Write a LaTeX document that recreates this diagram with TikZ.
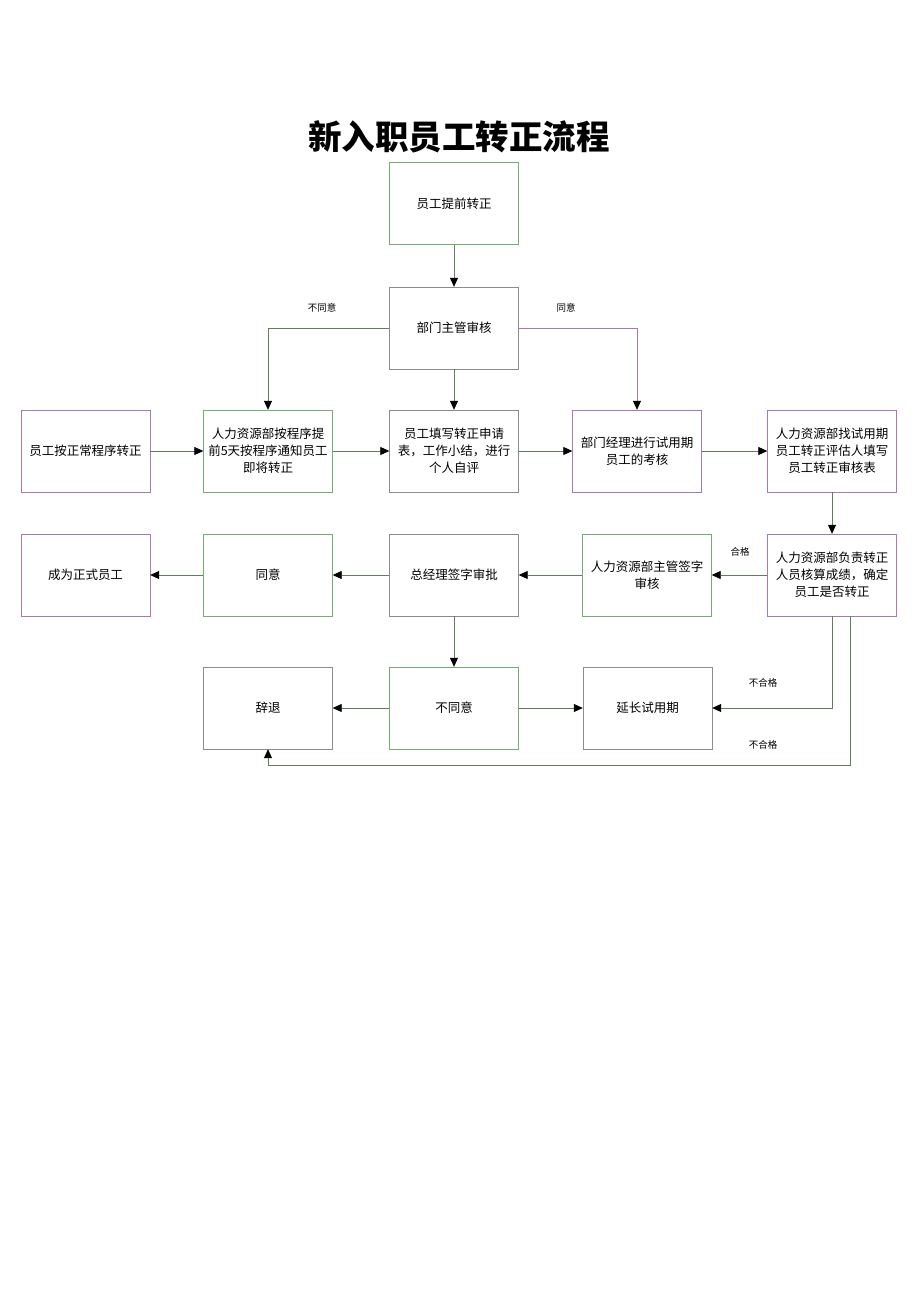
\documentclass[tikz,border=0pt]{standalone}
\usepackage{fontspec}
\newfontfamily\cjk{Noto Sans CJK SC}
\usepackage{xcolor}
\usetikzlibrary{arrows.meta}

\definecolor{boxgreen}{RGB}{120,170,120}
\definecolor{boxpurple}{RGB}{170,120,170}
\definecolor{boxgray}{RGB}{140,140,140}
\definecolor{linecol}{RGB}{95,125,95}

\tikzset{
  box/.style={draw, minimum width=129pt, minimum height=82pt, inner sep=2pt,
    align=center, font=\cjk\fontsize{12.5}{17}\selectfont},
  flow/.style={draw=linecol, line width=0.8pt, -{Triangle[length=9pt,width=8pt,color=black]}},
  lbl/.style={font=\cjk\fontsize{9.5}{11}\selectfont}
}

\begin{document}
\begin{tikzpicture}[x=1pt, y=-1pt]
            \useasboundingbox[fill=white] (0, 0) rectangle (920, 1302);
            \node[font=\cjk\bfseries\fontsize{33.5}{38}\selectfont] (title) at (459, 137) {新入职员工转正流程};

            % top of the flow
            \node[box, draw=boxgreen] (tiqian) at (454, 203.5) {员工提前转正};
            \node[box, draw=boxgray] (zhuguan) at (454, 328) {部门主管审核};

            % row 3
            \node[box, draw=boxpurple] (zhengchang) at (85.5, 451) {员工按正常程序转正};
            \node[box, draw=boxgreen] (tongzhi) at (268, 451) {人力资源部按程序提\\前5天按程序通知员工\\即将转正};
            \node[box, draw=boxgray] (tianxie) at (454, 451) {员工填写转正申请\\表，工作小结，进行\\个人自评};
            \node[box, draw=boxpurple] (kaohe) at (637, 451) {部门经理进行试用期\\员工的考核};
            \node[box, draw=boxpurple] (pinggu) at (832, 451) {人力资源部找试用期\\员工转正评估人填写\\员工转正审核表};

            % row 4
            \node[box, draw=boxpurple] (hesuan) at (832, 575) {人力资源部负责转正\\人员核算成绩，确定\\员工是否转正};
            \node[box, draw=boxgreen] (hrqianzi) at (647, 575) {人力资源部主管签字\\审核};
            \node[box, draw=boxgray] (zongjingli) at (454, 575) {总经理签字审批};
            \node[box, draw=boxgreen] (tongyi) at (268, 575) {同意};
            \node[box, draw=boxpurple] (zhengshi) at (85.5, 575) {成为正式员工};

            % row 5
            \node[box, draw=boxgray] (citui) at (268, 708) {辞退};
            \node[box, draw=boxgreen] (butongyi) at (454, 708) {不同意};
            \node[box, draw=boxgray] (yanchang) at (647.5, 708) {延长试用期};

            \coordinate (rao) at (850, 765);

            % connectors
            \draw[flow] (tiqian) -- (zhuguan);
            \draw[flow] (zhuguan.west) -| (tongzhi.north);
            \draw[flow, draw=boxpurple] (zhuguan.east) -| (kaohe.north);
            \draw[flow] (zhuguan) -- (tianxie);
            \draw[flow] (zhengchang) -- (tongzhi);
            \draw[flow] (tongzhi) -- (tianxie);
            \draw[flow] (tianxie) -- (kaohe);
            \draw[flow] (kaohe) -- (pinggu);
            \draw[flow] (pinggu) -- (hesuan);
            \draw[flow] (hesuan) -- (hrqianzi);
            \draw[flow] (hrqianzi) -- (zongjingli);
            \draw[flow] (zongjingli) -- (tongyi);
            \draw[flow] (tongyi) -- (zhengshi);
            \draw[flow] (zongjingli) -- (butongyi);
            \draw[flow] (butongyi) -- (citui);
            \draw[flow] (butongyi) -- (yanchang);
            \draw[flow] (hesuan.south) |- (yanchang.east);
            \draw[flow] (hesuan.south -| rao) -- (rao) -| (citui.south);

            % labels
            \node[lbl] (l1) at (322, 308) {不同意};
            \node[lbl] (l2) at (566, 308) {同意};
            \node[lbl] (l3) at (740, 552) {合格};
            \node[lbl] (l4) at (763, 683) {不合格};
            \node[lbl] (l5) at (763, 745) {不合格};
        \end{tikzpicture}
\end{document}
